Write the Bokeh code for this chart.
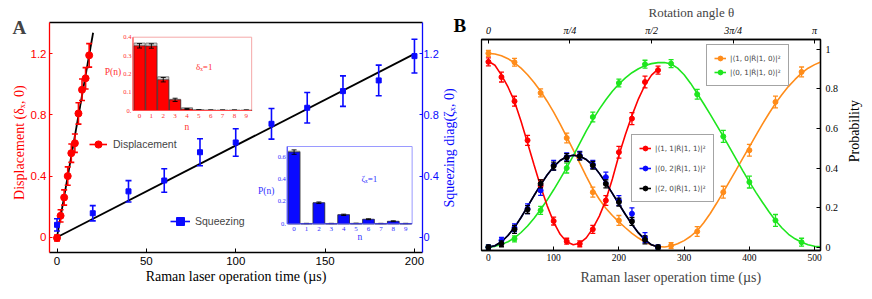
import math
from bokeh.plotting import figure
from bokeh.models import (Range1d, LinearAxis, FixedTicker, Legend, LegendItem, ColumnDataSource, Title)
from bokeh.layouts import row, column
from bokeh.embed import file_html
from bokeh.resources import INLINE
from bokeh.core.properties import value

SERIF = "Liberation Serif"
SANS = "Liberation Sans"
RED = "#ff0000"
BLUE = "#0a0aff"
ORANGE = "#ff8c1a"
GREEN = "#1ee61e"

# ---------------- Panel A data ----------------
disp_t = [0, 2, 4, 6, 8, 10, 12, 14, 16, 18]
disp_val = [-0.005, 0.14, 0.26, 0.40, 0.55, 0.615, 0.81, 0.965, 1.04, 1.19]
disp_err = [0.02, 0.04, 0.05, 0.06, 0.06, 0.06, 0.07, 0.07, 0.07, 0.077]
disp_fit_t = [0, 20.2]
disp_fit_val = [0, 1.338]

sq_t = [0, 20, 40, 60, 80, 100, 120, 140, 160, 180, 200]
sq_val = [0.081, 0.157, 0.30, 0.371, 0.556, 0.62, 0.742, 0.847, 0.956, 1.026, 1.185]
sq_err = [0.04, 0.05, 0.07, 0.077, 0.088, 0.09, 0.1, 0.1, 0.1, 0.1, 0.11]
sq_fit_t = [0, 200]
sq_fit_val = [0, 1.2]

a_xticks = [0, 50, 100, 150, 200]
a_yticks = [0, 0.4, 0.8, 1.2]

fock_n = [0, 1, 2, 3, 4, 5, 6, 7, 8, 9]
pn_disp = [0.353, 0.352, 0.168, 0.058, 0.008, 0.003, 0.002, 0.002, 0.002, 0.002]
pn_disp_err = [0.012, 0.012, 0.012, 0.009, 0.003, 0.001, 0.001, 0.001, 0.001, 0.001]
pn_disp_theory = [0.368, 0.368, 0.184, 0.061, 0.015, 0.003, 0.001, 0.0, 0.0, 0.0]
pn_sq = [0.64, 0.003, 0.188, 0.003, 0.08, 0.004, 0.041, 0.003, 0.023, 0.003]
pn_sq_err = [0.02, 0.001, 0.007, 0.001, 0.006, 0.001, 0.004, 0.001, 0.004, 0.001]
pn_sq_theory = [0.648, 0.0, 0.188, 0.0, 0.082, 0.0, 0.039, 0.0, 0.02, 0.0]
inset1_yticks = [0, 0.1, 0.2, 0.3, 0.4]
inset1_ylabels = ["0.", "0.1", "0.2", "0.3", "0.4"]
inset2_yticks = [0, 0.2, 0.4, 0.6]
inset2_ylabels = ["0.", "0.2", "0.4", "0.6"]

# ---------------- Panel B data ----------------
t_orange = [0, 40, 80, 120, 160, 200, 280, 320, 360, 400, 440, 480]
orange_val = [0.98, 0.935, 0.78, 0.552, 0.278, 0.135, 0.008, 0.079, 0.278, 0.49, 0.734, 0.886]
orange_err = [0.015, 0.02, 0.02, 0.025, 0.025, 0.025, 0.015, 0.025, 0.03, 0.03, 0.03, 0.025]
t_green = [0, 40, 80, 120, 160, 200, 240, 280, 320, 360, 400, 440, 480]
green_val = [0.0, 0.042, 0.186, 0.40, 0.658, 0.83, 0.925, 0.928, 0.773, 0.56, 0.329, 0.135, 0.025]
green_err = [0.01, 0.015, 0.02, 0.025, 0.025, 0.02, 0.02, 0.02, 0.025, 0.03, 0.03, 0.03, 0.02]
t_pair = [0, 20, 40, 60, 80, 100, 120, 140, 160, 180, 200, 220, 240, 260]
red_val = [0.937, 0.86, 0.738, 0.54, 0.31, 0.132, 0.03, 0.017, 0.09, 0.236, 0.48, 0.65, 0.835, 0.895]
red_err = [0.02, 0.025, 0.025, 0.025, 0.03, 0.02, 0.015, 0.015, 0.02, 0.025, 0.03, 0.03, 0.03, 0.02]
blue_val = [0.0, 0.034, 0.098, 0.194, 0.287, 0.414, 0.456, 0.464, 0.419, 0.354, 0.236, 0.169, 0.048, 0.0]
blue_err = [0.01, 0.015, 0.02, 0.025, 0.025, 0.025, 0.02, 0.02, 0.02, 0.025, 0.025, 0.03, 0.025, 0.01]
black_val = [0.0, 0.017, 0.09, 0.19, 0.32, 0.41, 0.453, 0.46, 0.414, 0.32, 0.228, 0.13, 0.037, 0.0]
black_err = [0.01, 0.015, 0.02, 0.02, 0.02, 0.02, 0.02, 0.02, 0.02, 0.02, 0.02, 0.02, 0.02, 0.01]

tc_long = [0, 10, 20, 30, 40, 50, 60, 70, 80, 90, 100, 110, 120, 130, 140, 150, 160, 170, 180, 190,
           200, 210, 220, 230, 240, 250, 260, 270, 280, 290, 300, 310, 320, 330, 340, 350, 360, 370,
           380, 390, 400, 410, 420, 430, 440, 450, 460, 470, 480, 490, 500, 510]
orange_fit = [0.98, 0.977, 0.968, 0.953, 0.932, 0.905, 0.872, 0.833, 0.788, 0.738,
              0.683, 0.622, 0.558, 0.492, 0.425, 0.358, 0.295, 0.242, 0.197, 0.16,
              0.128, 0.098, 0.07, 0.046, 0.026, 0.011, 0.003, 0.001, 0.006, 0.017,
              0.033, 0.055, 0.083, 0.123, 0.17, 0.223, 0.278, 0.335, 0.392, 0.45,
              0.507, 0.565, 0.622, 0.676, 0.727, 0.772, 0.813, 0.848, 0.88, 0.905,
              0.923, 0.937]
green_fit = [0.0, 0.004, 0.014, 0.027, 0.047, 0.074, 0.107, 0.146, 0.19, 0.238,
             0.29, 0.345, 0.402, 0.462, 0.525, 0.588, 0.645, 0.698, 0.745, 0.788,
             0.825, 0.856, 0.882, 0.902, 0.918, 0.928, 0.933, 0.934, 0.926, 0.905,
             0.872, 0.828, 0.777, 0.725, 0.671, 0.616, 0.56, 0.502, 0.444, 0.386,
             0.33, 0.277, 0.227, 0.179, 0.135, 0.097, 0.065, 0.042, 0.025, 0.012,
             0.004, 0.001]
tc_short = [0, 10, 20, 30, 40, 50, 60, 70, 80, 90, 100, 110, 120, 130, 140, 150, 160, 170, 180,
            190, 200, 210, 220, 230, 240, 250, 260]
red_fit = [0.94, 0.92, 0.87, 0.81, 0.737, 0.637, 0.527, 0.415, 0.307, 0.21, 0.127, 0.065, 0.027,
           0.012, 0.02, 0.047, 0.095, 0.157, 0.238, 0.345, 0.465, 0.57, 0.665, 0.75, 0.82, 0.87, 0.9]
pair_fit = [0.0, 0.007, 0.027, 0.059, 0.1, 0.15, 0.205, 0.261, 0.315, 0.365, 0.407, 0.438, 0.458,
            0.465, 0.46, 0.443, 0.415, 0.373, 0.325, 0.272, 0.218, 0.165, 0.116, 0.072, 0.037, 0.012, 0.001]

b_xticks = [0, 100, 200, 300, 400, 500]
b_yticks = [0, 0.2, 0.4, 0.6, 0.8, 1]
theta_ticks = [0, 125, 250, 375, 500]
theta_labels = ["0", "π/4", "π/2", "3π/4", "π"]

lab_o = "|\u27e81, 0|R\u0302|1, 0\u27e9|\u00b2"
lab_g = "|\u27e80, 1|R\u0302|1, 0\u27e9|\u00b2"
lab_r = "|\u27e81, 1|R\u0302|1, 1\u27e9|\u00b2"
lab_b = "|\u27e80, 2|R\u0302|1, 1\u27e9|\u00b2"
lab_k = "|\u27e82, 0|R\u0302|1, 1\u27e9|\u00b2"

# ---------------- helpers ----------------
def try_set(obj, **kw):
    for k, v in kw.items():
        try:
            setattr(obj, k, v)
        except Exception:
            pass


def err_bars(p, t, v, e, color, cap, lw, **kw):
    src = ColumnDataSource(dict(t=t, lo=[a - b for a, b in zip(v, e)], hi=[a + b for a, b in zip(v, e)]))
    seg = p.segment(x0="t", y0="lo", x1="t", y1="hi", source=src, line_color=color, line_width=lw, **kw)
    for col in ("lo", "hi"):
        p.scatter(x="t", y=col, source=src, marker="dash", size=cap, line_color=color, line_width=lw, **kw)
    return seg


def style_axis(ax, color, font, size, tin, tout, standoff, lw=1.3):
    ax.axis_line_color = color
    ax.axis_line_width = lw
    ax.major_tick_line_color = color
    ax.major_tick_line_width = 1
    ax.major_tick_in = tin
    ax.major_tick_out = tout
    ax.minor_tick_line_color = None
    ax.major_label_text_color = color
    ax.major_label_text_font = font
    ax.major_label_text_font_size = size
    ax.major_label_standoff = standoff


def axis_title(ax, text, color, size, standoff):
    ax.axis_label = text
    ax.axis_label_text_color = color
    ax.axis_label_text_font = SERIF
    ax.axis_label_text_font_size = size
    ax.axis_label_text_font_style = "normal"
    ax.axis_label_standoff = standoff


def text_axis(pos, text, color, size, standoff, style="normal", orientation=None):
    # an axis carrying a single text at a data position (used for side texts)
    ax = LinearAxis(ticker=FixedTicker(ticks=[pos]), major_label_overrides={pos: text})
    style_axis(ax, color, SERIF, size, 0, 0, standoff, lw=0)
    ax.axis_line_color = None
    ax.major_tick_line_color = None
    ax.major_label_text_font_style = style
    if orientation is not None:
        ax.major_label_orientation = orientation
    return ax


def make_title(text, size, style, align, offset, standoff, valign="bottom"):
    t = Title(text=text)
    try_set(t, text_font=SERIF, text_font_size=size, text_font_style=style, align=align,
            offset=offset, vertical_align=valign)
    try_set(t, standoff=standoff)
    return t


def lin_range(pix_lo, pix_hi, d_lo, d_hi, f_lo, f_hi):
    s = (d_hi - d_lo) / (pix_hi - pix_lo)
    return Range1d(d_lo + (f_lo - pix_lo) * s, d_lo + (f_hi - pix_lo) * s)

# ---------------- Panel A ----------------
FA_L, FA_R, FA_T, FA_B = 49, 423, 22, 252
WA = 469
pA = figure(width=WA, height=299, x_range=Range1d(-4.2, 204.5), y_range=Range1d(-0.1, 1.405),
            output_backend="svg", toolbar_location=None, title=None,
            min_border_left=FA_L, min_border_right=WA - FA_R, min_border_top=22, min_border_bottom=47,
            outline_line_color=None)
pA.grid.visible = False
style_axis(pA.xaxis[0], "black", SANS, "11.5px", 4, 0, 4)
pA.xaxis[0].ticker = FixedTicker(ticks=a_xticks)
axis_title(pA.xaxis[0], "Raman laser operation time (\u00b5s)", "black", "14px", 1)
style_axis(pA.yaxis[0], RED, SANS, "11.5px", 3, 0, 3)
pA.yaxis[0].ticker = FixedTicker(ticks=a_yticks)
pA.add_layout(text_axis(0.993, "Displacement (\u03b4\u2093, 0)", RED, "14px", 8,
                        orientation=math.pi / 2), "left")
rax = LinearAxis(ticker=FixedTicker(ticks=a_yticks))
style_axis(rax, BLUE, SANS, "11px", 3, 0, 1)
pA.add_layout(rax, "right")
pA.add_layout(text_axis(0.1944, "Squeezing diag(\u03b6\u2093, 0)", BLUE, "14px", 8,
                        orientation=math.pi / 2), "right")
pA.add_layout(text_axis(1.386, "B", "black", "19px", -14, style="bold"), "right")
tax = LinearAxis(ticker=FixedTicker(ticks=[]))
style_axis(tax, "black", SANS, "0px", 0, 0, 0)
pA.add_layout(tax, "above")
pA.add_layout(make_title("A", "19px", "bold", "left", -37, -30), "above")

pA.line(disp_fit_t, disp_fit_val, line_color="black", line_width=1.8)
pA.line(sq_fit_t, sq_fit_val, line_color="black", line_width=1.8)
d_seg = err_bars(pA, disp_t, disp_val, disp_err, RED, 6, 1.6)
d_sc = pA.scatter(disp_t, disp_val, marker="circle", size=7, fill_color=RED, line_color=RED)
s_seg = err_bars(pA, sq_t, sq_val, sq_err, BLUE, 6, 1.6)
s_sc = pA.scatter(sq_t, sq_val, marker="square", size=5, fill_color=BLUE, line_color=BLUE)

legD = Legend(items=[LegendItem(label="Displacement", renderers=[d_seg, d_sc])], location=(40, 99),
              glyph_width=18, glyph_height=18, label_height=18, padding=0, margin=0, spacing=0,
              border_line_color=None, background_fill_alpha=0, label_standoff=6,
              label_text_font=SANS, label_text_font_size="10.5px")
legS = Legend(items=[LegendItem(label="Squeezing", renderers=[s_seg, s_sc])], location=(121, 21),
              glyph_width=20, glyph_height=20, label_height=20, padding=0, margin=0, spacing=0,
              border_line_color=None, background_fill_alpha=0, label_standoff=5,
              label_text_font=SANS, label_text_font_size="10.5px")
pA.add_layout(legD)
pA.add_layout(legS)

# insets via extra ranges mapped to pixel boxes inside frame A
I1_X = (-0.55, 9.45)
I1_Y = (0.0, 0.4)
I2_X = (-0.55, 9.52)
I2_Y = (0.0, 0.69)
pA.extra_x_ranges = {"i1x": lin_range(132.7, 251.7, I1_X[0], I1_X[1], FA_L, FA_R),
                     "i2x": lin_range(287.4, 412.6, I2_X[0], I2_X[1], FA_L, FA_R)}
pA.extra_y_ranges = {"i1y": lin_range(FA_B - 110.0, FA_B - 36.7, I1_Y[0], I1_Y[1], 0, FA_B - FA_T),
                     "i2y": lin_range(FA_B - 223.3, FA_B - 146.0, I2_Y[0], I2_Y[1], 0, FA_B - FA_T)}


def draw_inset(xr, yr, xlim, ylim, meas, err, theo, fill, axis_col, frame_col, txt_col,
               yticks, ylabels, note, note_x, note_y, n_x, n_off, p_off, p_y):
    kw = dict(x_range_name=xr, y_range_name=yr)
    pA.quad(left=[xlim[0]], right=[xlim[1]], bottom=[ylim[0]], top=[ylim[1]], fill_color="white",
            line_color=frame_col, line_width=1, **kw)
    pA.vbar(x=fock_n, top=theo, width=0.94, fill_color="#d0d0d0", line_color="#6a6a6a", line_width=0.8, **kw)
    pA.vbar(x=fock_n, top=meas, width=0.94, fill_color=fill, line_color="#2a2a2a", line_width=0.6, **kw)
    err_bars(pA, fock_n, meas, err, "black", 5, 0.9, **kw)
    pA.segment(x0=[xlim[0], xlim[0]], y0=[ylim[0], ylim[0]], x1=[xlim[0], xlim[1]], y1=[ylim[1], ylim[0]],
               line_color=axis_col, line_width=1.1, **kw)
    tf = value(SERIF)
    pA.text(x=fock_n, y=[ylim[0]] * len(fock_n), text=[str(k) for k in fock_n], y_offset=3,
            text_align="center", text_baseline="top", text_font=tf, text_font_size="7px",
            text_color=txt_col, **kw)
    pA.text(x=[xlim[0]] * len(yticks), y=yticks, text=ylabels, x_offset=-1.5, text_align="right",
            text_baseline="middle", text_font=tf, text_font_size="6.5px", text_color=txt_col, **kw)
    pA.text(x=[n_x], y=[ylim[0]], text=["n"], y_offset=n_off, text_align="center", text_baseline="middle",
            text_font=tf, text_font_size="9.5px", text_color=txt_col, **kw)
    pA.text(x=[xlim[0]], y=[p_y], text=["P(n)"], x_offset=p_off, text_align="center", text_baseline="middle",
            text_font=tf, text_font_size="9.5px", text_color=txt_col, **kw)
    pA.text(x=[note_x], y=[note_y], text=[note], text_align="center", text_baseline="middle",
            text_font=tf, text_font_size="9px", text_color=txt_col, **kw)


draw_inset("i1x", "i1y", I1_X, I1_Y, pn_disp, pn_disp_err, pn_disp_theory, RED, "#ff4a4a", "#f5a8a8",
           "#ff3030", inset1_yticks, inset1_ylabels, "\u03b4\u2093=1", 5.45, 0.236, 4.0, 16, -20, 0.209)
draw_inset("i2x", "i2y", I2_X, I2_Y, pn_sq, pn_sq_err, pn_sq_theory, BLUE, "#4a4aff", "#9a9aff",
           "#3030ff", inset2_yticks, inset2_ylabels, "\u03b6\u2093=1", 6.07, 0.40, 5.3, 13, -21, 0.297)

# ---------------- Panel B ----------------
FB_L, FB_R = 481, 824
WB = 872 - WA
pB = figure(width=WB, height=299, x_range=Range1d(-10.6, 509), y_range=Range1d(-0.017, 1.05),
            y_axis_location="right", output_backend="svg", toolbar_location=None, title=None,
            min_border_left=FB_L - WA, min_border_right=872 - FB_R, min_border_top=39, min_border_bottom=49,
            outline_line_color="black", outline_line_width=1.3)
pB.grid.visible = False
style_axis(pB.xaxis[0], "black", SERIF, "9.5px", 4, 0, 3)
pB.xaxis[0].ticker = FixedTicker(ticks=b_xticks)
style_axis(pB.yaxis[0], "black", SERIF, "10px", 4, 0, 5)
pB.yaxis[0].ticker = FixedTicker(ticks=b_yticks)
pB.add_layout(text_axis(0.4289, "Probability", "black", "14px", 13, orientation=math.pi / 2), "right")
topax = LinearAxis(ticker=FixedTicker(ticks=theta_ticks),
                   major_label_overrides={k: v for k, v in zip(theta_ticks, theta_labels)})
style_axis(topax, "black", SERIF, "10px", 4, 0, 4)
topax.major_label_text_font_style = "italic"
pB.add_layout(topax, "above")
pB.add_layout(make_title("Rotation angle \u03b8", "13px", "normal", "left", 167, 4), "above")
pB.add_layout(make_title("Raman laser operation time (\u00b5s)", "14px", "normal", "left", 99, 12,
                         valign="top"), "below")

o_line = pB.line(tc_long, orange_fit, line_color=ORANGE, line_width=1.6)
g_line = pB.line(tc_long, green_fit, line_color=GREEN, line_width=1.6)
r_line = pB.line(tc_short, red_fit, line_color=RED, line_width=1.6)
b_line = pB.line(tc_short, pair_fit, line_color=BLUE, line_width=1.6)
k_line = pB.line(tc_short, pair_fit, line_color="black", line_width=1.6)

err_bars(pB, t_orange, orange_val, orange_err, ORANGE, 5, 1.3)
o_sc = pB.scatter(t_orange, orange_val, marker="circle", size=5, fill_color=ORANGE, line_color=ORANGE)
err_bars(pB, t_green, green_val, green_err, GREEN, 5, 1.3)
g_sc = pB.scatter(t_green, green_val, marker="circle", size=5, fill_color=GREEN, line_color=GREEN)
err_bars(pB, t_pair, red_val, red_err, RED, 5, 1.3)
r_sc = pB.scatter(t_pair, red_val, marker="circle", size=5, fill_color=RED, line_color=RED)
err_bars(pB, t_pair, blue_val, blue_err, BLUE, 5, 1.3)
b_sc = pB.scatter(t_pair, blue_val, marker="circle", size=5, fill_color=BLUE, line_color=BLUE)
err_bars(pB, t_pair, black_val, black_err, "black", 5, 1.3)
k_sc = pB.scatter(t_pair, black_val, marker="circle", size=5, fill_color="black", line_color="black")

leg_common = dict(glyph_width=12, glyph_height=12, label_height=12, margin=0, label_standoff=4,
                  border_line_color="#4a4a4a", border_line_width=1, background_fill_color="white",
                  background_fill_alpha=1, label_text_font="DejaVu Sans", label_text_font_size="7.2px")
legB1 = Legend(items=[LegendItem(label=lab_o, renderers=[o_line, o_sc]),
                      LegendItem(label=lab_g, renderers=[g_line, g_sc])],
               location=(225, 164), spacing=2, padding=7, **leg_common)
legB2 = Legend(items=[LegendItem(label=lab_r, renderers=[r_line, r_sc]),
                      LegendItem(label=lab_b, renderers=[b_line, b_sc]),
                      LegendItem(label=lab_k, renderers=[k_line, k_sc])],
               location=(150, 48), spacing=8, padding=7, **leg_common)
pB.add_layout(legB1)
pB.add_layout(legB2)

layout = row(column(pA), column(pB))
open("out.html", "w").write(file_html(layout, INLINE))
